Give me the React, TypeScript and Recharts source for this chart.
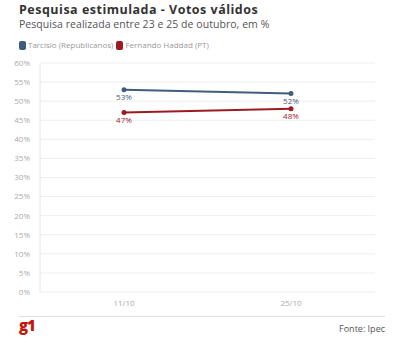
import React from "react";
import { LineChart, Line, XAxis, YAxis, CartesianGrid, LabelList } from "recharts";

const dates = ["11/10", "25/10"];
const tarcisio = [53, 52];
const haddad = [47, 48];
const yTicks = [0, 5, 10, 15, 20, 25, 30, 35, 40, 45, 50, 55, 60];

const data = dates.map((d, i) => ({ date: d, tarcisio: tarcisio[i], haddad: haddad[i] }));

const BLUE = "#3f5e7d";
const RED = "#9c1b21";
const FONT = "'Open Sans', sans-serif";

const makeLabel = (color: string) => (props: any) => {
  const { x, y, value } = props;
  return (
    <text x={x} y={y + 10} textAnchor="middle" fill={color} fontSize={8} fontFamily={FONT}>
      {value}%
    </text>
  );
};

export default function App() {
  return (
    <div style={{ position: "fixed", left: 0, top: 0, width: 403, height: 346, background: "#fff", fontFamily: FONT }}>
      <div style={{ position: "absolute", left: 19, top: 4, fontSize: 12.5, lineHeight: "12.5px", letterSpacing: 0.5, fontWeight: 700, color: "#333", whiteSpace: "nowrap" }}>
        Pesquisa estimulada - Votos válidos
      </div>
      <div style={{ position: "absolute", left: 19, top: 18.5, fontSize: 10.5, lineHeight: "10.5px", letterSpacing: 0.05, color: "#555", whiteSpace: "nowrap" }}>
        Pesquisa realizada entre 23 e 25 de outubro, em %
      </div>
      <div style={{ position: "absolute", left: 19, top: 40, fontSize: 8, lineHeight: "10px", color: "#999", whiteSpace: "nowrap", display: "flex", alignItems: "center" }}>
        <span style={{ display: "inline-block", width: 7, height: 9, borderRadius: 2, background: BLUE, marginRight: 2 }} />
        <span style={{ marginRight: 3 }}>Tarcisio (Republicanos)</span>
        <span style={{ display: "inline-block", width: 7, height: 9, borderRadius: 2, background: RED, marginRight: 2 }} />
        <span>Fernando Haddad (PT)</span>
      </div>
      <div style={{ position: "absolute", left: 0, top: 0 }}>
        <LineChart width={403} height={346} data={data} margin={{ top: 63, right: 28, bottom: 34, left: 0 }}>
          <CartesianGrid vertical={false} stroke="#eeeeee" />
          <XAxis
            dataKey="date"
            height={20}
            padding={{ left: 84, right: 84 }}
            axisLine={false}
            tickLine={false}
            tick={{ fontSize: 8, fill: "#aaa", fontFamily: FONT }}
            tickMargin={2}
          />
          <YAxis
            width={40}
            domain={[0, 60]}
            ticks={yTicks}
            interval={0}
            tickFormatter={(v: number) => `${v}%`}
            axisLine={{ stroke: "#e6e6e6" }}
            tickLine={false}
            tick={{ fontSize: 8, fill: "#aaa", fontFamily: FONT }}
            tickMargin={4}
          />
          <Line dataKey="tarcisio" stroke={BLUE} strokeWidth={2} dot={{ r: 2.5, fill: BLUE, stroke: BLUE, strokeWidth: 0 }} isAnimationActive={false}>
            <LabelList dataKey="tarcisio" content={makeLabel(BLUE)} />
          </Line>
          <Line dataKey="haddad" stroke={RED} strokeWidth={2} dot={{ r: 2.5, fill: RED, stroke: RED, strokeWidth: 0 }} isAnimationActive={false}>
            <LabelList dataKey="haddad" content={makeLabel(RED)} />
          </Line>
        </LineChart>
      </div>
      <div style={{ position: "absolute", left: 19, top: 316, width: 366, height: 1, background: "#ddd" }} />
      <div style={{ position: "absolute", left: 19, top: 318, fontSize: 15, lineHeight: "15px", fontWeight: 800, color: "#c4170c", letterSpacing: -1 }}>g1</div>
      <div style={{ position: "absolute", right: 18, top: 324, fontSize: 9, lineHeight: "10px", color: "#555" }}>Fonte: Ipec</div>
    </div>
  );
}
